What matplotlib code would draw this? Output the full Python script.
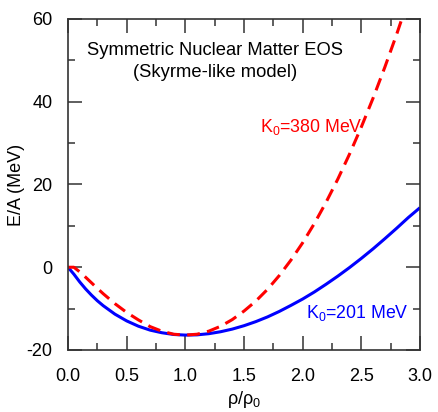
import matplotlib
matplotlib.use("Agg")
import matplotlib.pyplot as plt
from matplotlib.ticker import MultipleLocator

plt.rcParams['font.family'] = ['Liberation Sans', 'DejaVu Sans']
plt.rcParams['mathtext.fontset'] = 'custom'
plt.rcParams['mathtext.rm'] = 'Liberation Sans'
plt.rcParams['mathtext.it'] = 'Liberation Sans'

# density ratio rho/rho0
rho = [0.0, 0.05, 0.1, 0.15, 0.2, 0.25, 0.3, 0.4, 0.5, 0.6, 0.7, 0.8, 0.9,
       1.0, 1.1, 1.2, 1.3, 1.4, 1.5, 1.6, 1.7, 1.8, 1.9, 2.0, 2.1, 2.2,
       2.3, 2.4, 2.5, 2.6, 2.7, 2.8, 2.9, 3.0]

# E/A (MeV), K0 = 201 MeV (blue solid)
ea_soft = [0.0, -1.68, -3.56, -5.24, -6.74, -8.1, -9.29, -11.34, -12.97,
           -14.25, -15.20, -15.83, -16.25, -16.4, -16.34, -16.06, -15.59,
           -14.95, -14.13, -13.15, -12.01, -10.69, -9.22, -7.68, -5.97,
           -4.10, -2.14, -0.06, 2.14, 4.45, 6.89, 9.40, 12.0, 14.4]

# E/A (MeV), K0 = 380 MeV (red dashed)
ea_stiff = [0.0, 0.0, -1.13, -2.42, -3.76, -5.10, -6.40, -8.81, -10.93,
            -12.73, -14.35, -15.46, -16.19, -16.4, -16.19, -15.45, -14.27,
            -12.65, -10.59, -8.20, -5.35, -2.03, 1.73, 5.92, 10.59, 15.74,
            21.33, 27.39, 33.9, 40.87, 48.33, 56.22, 64.6, 73.46]

x_ticks = [0.0, 0.5, 1.0, 1.5, 2.0, 2.5, 3.0]
y_ticks = [-20, 0, 20, 40, 60]

fig = plt.figure(figsize=(4.38, 4.12), dpi=100)
ax = fig.add_axes([0.1553, 0.1505, 0.8036, 0.8034])

ax.plot(rho, ea_soft, color='#0000ff', lw=2.2, solid_capstyle='butt')
ax.plot(rho, ea_stiff, color='#ff0000', lw=2.2, linestyle=(0, (4.2, 2.4)))

ax.set_xlim(0, 3)
ax.set_ylim(-20, 60)
ax.set_xticks(x_ticks)
ax.set_xticklabels([f"{t:.1f}" for t in x_ticks])
ax.set_yticks(y_ticks)
ax.set_yticklabels([str(t) for t in y_ticks])
ax.xaxis.set_minor_locator(MultipleLocator(0.25))
ax.yaxis.set_minor_locator(MultipleLocator(10))
ax.tick_params(which='both', direction='in', top=True, right=True,
               color='#333333', labelsize=13)
ax.tick_params(which='major', length=10, width=1.1)
ax.tick_params(which='minor', length=5, width=1.1)
ax.tick_params(axis='x', which='major', pad=13)
ax.tick_params(axis='y', which='major', pad=11)
for s in ax.spines.values():
    s.set_color('#333333')
    s.set_linewidth(1.2)

ax.set_xlabel(r'$\mathregular{ρ/ρ_0}$', fontsize=13, labelpad=3)
ax.set_ylabel('E/A (MeV)', fontsize=13, labelpad=1)

ax.text(1.255, 52.5, 'Symmetric Nuclear Matter EOS', fontsize=13.2,
        ha='center', va='center')
ax.text(1.255, 47.0, '(Skyrme-like model)', fontsize=13.2,
        ha='center', va='center')
ax.text(1.64, 33.9, r'$\mathregular{K_0}$=380 MeV', fontsize=12.8,
        color='#ff0000', ha='left', va='center')
ax.text(2.03, -11.0, r'$\mathregular{K_0}$=201 MeV', fontsize=12.8,
        color='#0000ff', ha='left', va='center')

fig.savefig('out.png', dpi=100)
